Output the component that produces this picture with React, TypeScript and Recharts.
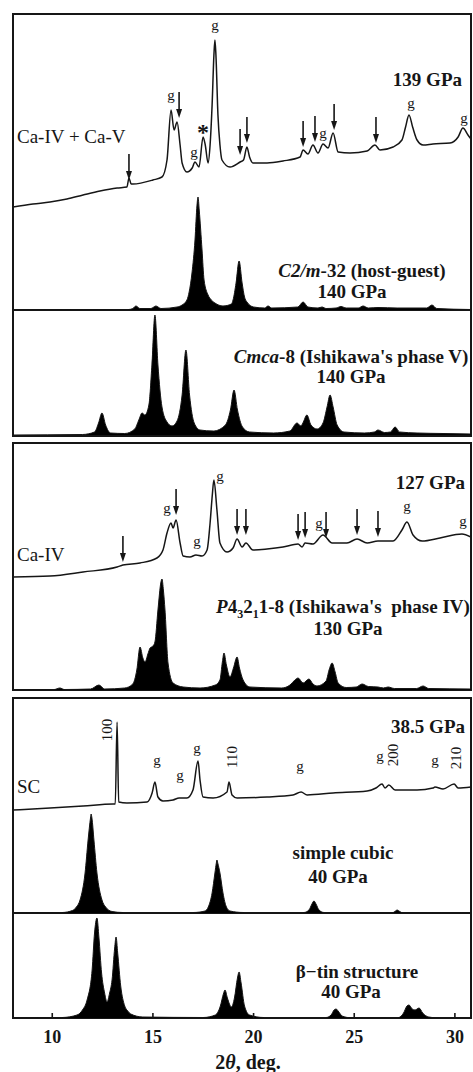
import React from "react";
import { ComposedChart, Line, Area, Scatter, XAxis, YAxis, Label } from "recharts";

const FONT = '"Liberation Serif", "Times New Roman", serif';
const INK = "#161616";
const T_DOMAIN: [number, number] = [8.05, 30.8];
const ticksAll = [10, 15, 20, 25, 30];
const ticksTopBox = [10, 20, 30];

type Pt = [number, number];
type LPt = [number, number, string];

// ---- 139 GPa, Ca-IV + Ca-V (2theta, intensity arb.)
const exp139: Pt[] = [
  [8.05, 8], [9.04, 11], [9.89, 13], [10.73, 16], [11.53, 20], [12.37, 24], [13.22, 27],
  [13.71, 28], [13.81, 37], [13.92, 31], [14.01, 31], [15.0, 35], [15.45, 38], [15.7, 55],
  [15.9, 105], [16.05, 85], [16.2, 93], [16.35, 70], [16.45, 52], [16.69, 43], [16.95, 47],
  [17.09, 53], [17.29, 48], [17.49, 78], [17.6, 70], [17.74, 52], [17.84, 70], [17.94, 110],
  [18.03, 160], [18.08, 175], [18.13, 160], [18.23, 100], [18.33, 70], [18.43, 55], [18.83, 48],
  [19.33, 53], [19.5, 55], [19.67, 68], [19.8, 58], [19.97, 52], [20.67, 52], [21.46, 54],
  [22.31, 58], [22.46, 65], [22.7, 61], [22.95, 70], [23.2, 62], [23.45, 71], [23.7, 67],
  [23.95, 82], [24.2, 63], [24.79, 62], [25.64, 64], [26.03, 70], [26.28, 65], [26.93, 68],
  [27.37, 75], [27.55, 88], [27.72, 100], [27.9, 88], [28.12, 75], [28.42, 70], [28.91, 71],
  [29.76, 72], [30.16, 78], [30.4, 87], [30.65, 80], [30.8, 76],
];
const arrows139: Pt[] = [
  [13.81, 35], [16.3, 97], [19.33, 60], [19.67, 72], [22.46, 68], [23.05, 73], [24.0, 85], [26.08, 72],
];
const g139: Pt[] = [[15.9, 118], [17.04, 61], [18.08, 188], [23.45, 80], [27.82, 110], [30.45, 95]];
const star139: Pt[] = [[17.49, 87]];

// ---- C2/m-32 (host-guest), 140 GPa
const c2m: Pt[] = [
  [8.05, 0], [13.8, 0.5], [14.0, 1.5], [14.16, 4], [14.35, 1.5], [14.9, 1.5], [15.15, 4], [15.4, 1.5],
  [16.2, 3], [16.45, 5], [16.69, 10], [16.8, 18], [16.94, 37], [17.09, 70], [17.19, 105], [17.24, 113],
  [17.3, 100], [17.44, 60], [17.54, 30], [17.74, 15], [17.9, 10], [18.08, 7], [18.48, 4], [18.9, 6],
  [18.98, 10], [19.13, 27], [19.28, 49], [19.43, 27], [19.55, 13], [19.67, 8], [20.0, 3], [20.55, 2],
  [20.72, 4], [20.9, 2], [22.2, 3], [22.46, 8], [22.7, 3], [23.2, 2], [23.4, 3], [23.6, 1.5], [24.1, 2],
  [24.34, 3.5], [24.6, 2], [25.2, 2], [25.44, 4], [25.7, 2], [26.18, 2.5], [27.13, 2], [28.6, 2],
  [28.86, 5], [29.1, 1.5], [30.8, 0.5],
];

// ---- Cmca-8 (Ishikawa's phase V), 140 GPa
const cmca: Pt[] = [
  [8.05, 0], [11.5, 0.5], [12.1, 3], [12.3, 12], [12.47, 22], [12.65, 10], [12.9, 2], [13.6, 1.5],
  [14.1, 6], [14.3, 15], [14.46, 22], [14.6, 20], [14.8, 30], [14.95, 70], [15.1, 120], [15.25, 70],
  [15.45, 28], [15.7, 13], [15.95, 9], [16.2, 14], [16.45, 40], [16.64, 85], [16.82, 40], [17.05, 12],
  [17.34, 5], [18.0, 4], [18.6, 10], [18.85, 25], [19.03, 45], [19.2, 25], [19.45, 8], [19.8, 3],
  [21.0, 2], [21.8, 4], [22.16, 12], [22.35, 9], [22.45, 12], [22.65, 20], [22.85, 10], [23.15, 6],
  [23.45, 12], [23.65, 28], [23.8, 40], [23.95, 28], [24.15, 10], [24.5, 3], [25.5, 2], [26.0, 3],
  [26.18, 5], [26.5, 2.5], [26.8, 3], [27.03, 8], [27.25, 3], [28.12, 2], [29.41, 1.5], [30.8, 1],
];

// ---- 127 GPa, Ca-IV
const exp127: Pt[] = [
  [8.05, 13], [9.89, 14], [11.53, 18], [13.22, 23], [13.51, 25], [14.36, 27], [15.2, 32], [15.5, 40],
  [15.7, 57], [15.9, 67], [16.0, 62], [16.15, 70], [16.35, 47], [16.5, 34], [16.84, 33], [17.14, 35],
  [17.44, 34], [17.69, 40], [17.84, 67], [17.95, 95], [18.03, 110], [18.18, 80], [18.33, 47],
  [18.68, 38], [18.98, 42], [19.18, 51], [19.43, 43], [19.62, 47], [19.97, 40], [20.67, 41],
  [21.46, 43], [22.21, 46], [22.41, 43], [22.56, 47], [22.95, 46], [23.45, 55], [23.9, 47],
  [24.64, 47], [25.14, 51], [25.64, 47], [26.18, 49], [26.93, 49], [27.37, 60], [27.62, 68],
  [27.92, 55], [28.37, 49], [29.26, 52], [30.35, 56], [30.8, 53],
];
const arrows127: Pt[] = [
  [13.51, 28], [16.15, 75], [19.18, 55], [19.62, 55], [22.21, 50], [22.56, 52], [23.6, 52], [25.14, 55], [26.18, 53],
];
const g127: Pt[] = [[15.7, 80], [17.19, 47], [18.33, 112], [23.25, 65], [27.62, 82], [30.4, 67]];

// ---- P4(3)2(1)2-8 (Ishikawa's phase IV), 130 GPa
const p4: Pt[] = [
  [8.05, 0], [10.1, 0.5], [10.38, 2], [10.6, 0.5], [11.9, 1], [12.32, 5], [12.6, 1], [13.6, 2],
  [14.0, 6], [14.2, 20], [14.36, 43], [14.5, 32], [14.61, 28], [14.75, 36], [14.86, 42], [15.0, 44],
  [15.1, 48], [15.25, 80], [15.4, 108], [15.45, 111], [15.52, 100], [15.6, 80], [15.75, 27],
  [16.0, 7], [16.5, 3], [17.34, 2], [18.1, 5], [18.33, 10], [18.45, 28], [18.53, 37], [18.65, 25],
  [18.83, 13], [19.0, 22], [19.18, 33], [19.3, 22], [19.48, 10], [19.82, 3], [21.4, 2], [21.81, 5],
  [22.05, 10], [22.21, 12], [22.46, 7], [22.75, 11], [22.95, 6], [23.15, 4], [23.6, 9], [23.75, 20],
  [23.9, 27], [24.05, 18], [24.2, 7], [24.6, 2.5], [25.1, 3], [25.39, 6], [25.7, 3.5], [26.18, 3],
  [26.45, 2], [26.68, 3], [27.0, 1.5], [28.1, 1.5], [28.42, 4], [28.7, 1.5], [30.8, 1],
];

// ---- 38.5 GPa, SC
const exp38: Pt[] = [
  [8.05, 10], [9.89, 12], [11.53, 14], [13.02, 16], [13.13, 16], [13.22, 98], [13.3, 18], [13.71, 17],
  [14.71, 18], [14.96, 27], [15.1, 38], [15.25, 23], [15.5, 19], [16.0, 20], [16.3, 22], [16.69, 22],
  [16.99, 30], [17.24, 59], [17.34, 40], [17.49, 23], [17.99, 22], [18.68, 28], [18.78, 38],
  [18.93, 25], [19.18, 22], [20.67, 23], [21.96, 25], [22.36, 28], [22.66, 25], [23.95, 27],
  [25.64, 29], [26.08, 32], [26.38, 36], [26.53, 32], [26.72, 35], [27.03, 30], [28.12, 30],
  [28.91, 32], [29.01, 33], [29.41, 31], [29.96, 36], [30.16, 32], [30.8, 33],
];
const g38: Pt[] = [[15.2, 58], [16.35, 43], [17.19, 70], [22.31, 52], [26.28, 62], [29.01, 58]];
const hkl38: LPt[] = [[12.7, 90, "100"], [18.93, 63, "110"], [26.93, 65, "200"], [30.06, 62, "210"]];

// ---- simple cubic, 40 GPa
const sc40: Pt[] = [
  [8.05, 0], [10.5, 0.5], [11.0, 2.5], [11.2, 6], [11.38, 13], [11.63, 40], [11.78, 73], [11.9, 95],
  [11.93, 99], [11.97, 95], [12.07, 73], [12.22, 40], [12.47, 13], [12.65, 6], [12.97, 1.5], [13.5, 0.5],
  [17.0, 0.5], [17.59, 2], [17.75, 6], [17.94, 20], [18.08, 40], [18.15, 50], [18.18, 53], [18.22, 50],
  [18.33, 40], [18.48, 20], [18.65, 6], [18.83, 2], [19.5, 0.5], [22.5, 0.5], [22.75, 3], [22.9, 9],
  [23.0, 12], [23.1, 9], [23.25, 3], [23.5, 0.5], [26.9, 0.3], [27.05, 2], [27.13, 3], [27.22, 2],
  [27.4, 0.3], [30.8, 0],
];

// ---- beta-tin, 40 GPa
const btin: Pt[] = [
  [8.05, 0], [10.5, 0.5], [11.23, 3], [11.5, 8], [11.73, 18], [11.98, 48], [12.1, 85], [12.22, 100],
  [12.32, 80], [12.45, 45], [12.6, 25], [12.72, 16], [12.85, 25], [12.97, 38], [13.1, 70], [13.17, 81],
  [13.25, 65], [13.4, 32], [13.6, 12], [13.75, 7], [13.9, 4], [14.5, 1], [17.5, 0.5], [18.1, 3],
  [18.35, 12], [18.5, 24], [18.58, 28], [18.7, 20], [18.9, 11], [19.05, 20], [19.2, 40], [19.28, 46],
  [19.38, 35], [19.55, 12], [19.8, 3], [20.5, 0.5], [23.6, 0.5], [23.85, 3], [24.0, 8], [24.1, 9],
  [24.2, 7], [24.4, 2], [24.8, 0.3], [27.2, 0.5], [27.45, 5], [27.62, 12], [27.72, 13], [27.88, 9],
  [28.02, 8], [28.22, 10], [28.4, 5], [28.7, 1], [29.2, 0], [30.8, 0],
];

const rows = (pts: Pt[]) => pts.map(([t, h]) => ({ t, h }));
const labelRows = (pts: LPt[]) => pts.map(([t, h, label]) => ({ t, h, label }));

const ArrowMark = (p: any) => (
  <g>
    <line x1={p.cx} x2={p.cx} y1={p.cy - 26} y2={p.cy - 6} stroke={INK} strokeWidth={1.6} />
    <path d={`M${p.cx - 3},${p.cy - 9} L${p.cx + 3},${p.cy - 9} L${p.cx},${p.cy} Z`} fill={INK} />
  </g>
);
const GMark = (p: any) => (
  <text x={p.cx} y={p.cy + 3} textAnchor="middle" fontFamily={FONT} fontSize={15} fill={INK}>g</text>
);
const StarMark = (p: any) => (
  <text x={p.cx} y={p.cy + 12} textAnchor="middle" fontFamily={FONT} fontSize={24} fontWeight="bold" fill={INK}>*</text>
);
const HklMark = (p: any) => (
  <text x={p.cx} y={p.cy + 5} textAnchor="middle" fontFamily={FONT} fontSize={15} fill={INK}
    transform={`rotate(-90 ${p.cx} ${p.cy})`}>{p.payload.label}</text>
);

const topTick = (len: number) => (p: any) => (
  <line x1={p.x} x2={p.x} y1={p.y} y2={p.y + len} stroke={INK} strokeWidth={1.6} />
);
const BottomTick = (p: any) => (
  <g>
    <line x1={p.x} x2={p.x} y1={p.y} y2={p.y - 5} stroke={INK} strokeWidth={1.6} />
    <text x={p.x} y={p.y + 25} textAnchor="middle" fontFamily={FONT} fontSize={18} fontWeight="bold" fill={INK}>
      {p.payload.value}
    </text>
  </g>
);
const AxisTitle = (p: any) => {
  const vb = p.viewBox;
  return (
    <text x={vb.x + vb.width / 2 + 6} y={vb.y + 51} textAnchor="middle" fontFamily={FONT} fontSize={20} fontWeight="bold" fill={INK}>
      2<tspan fontStyle="italic">θ</tspan>, deg.
    </text>
  );
};

const Plot = ({ top, height, extra = 0, data, children }: any) => (
  <div style={{ position: "absolute", left: 13, top }}>
    <ComposedChart width={458} height={height + extra} data={data} margin={{ top: 0, right: 0, bottom: 0, left: 0 }}>
      {children}
    </ComposedChart>
  </div>
);

const Txt = ({ x, y, align = "center", bold = true, size = 19, children }: any) => {
  const shift = align === "left" ? "0" : align === "right" ? "-100%" : "-50%";
  return (
    <div style={{
      position: "absolute", left: x, top: y - size * 0.52, transform: `translateX(${shift})`,
      whiteSpace: "nowrap", fontFamily: FONT, fontSize: size, lineHeight: 1,
      fontWeight: bold ? "bold" : "normal", color: INK,
    }}>{children}</div>
  );
};

const Box = ({ top, height }: any) => (
  <div style={{ position: "absolute", left: 12, top, width: 460, height, border: `2px solid ${INK}`, boxSizing: "border-box" }} />
);
const Sep = ({ y }: any) => (
  <div style={{ position: "absolute", left: 12, top: y - 1, width: 460, height: 2, background: INK }} />
);

const hiddenX = <XAxis type="number" dataKey="t" domain={T_DOMAIN} allowDataOverflow hide />;
const yAxis = (max: number) => <YAxis type="number" dataKey="h" domain={[0, max]} allowDataOverflow hide />;
const trace = <Line type="monotone" dataKey="h" stroke={INK} strokeWidth={1.5} dot={false} isAnimationActive={false} />;
const filled = <Area type="monotone" dataKey="h" stroke={INK} strokeWidth={1} fill="#000" fillOpacity={1} baseValue={0} dot={false} isAnimationActive={false} />;

export default function App() {
  return (
    <div style={{ position: "absolute", left: 0, top: 0, width: 473, height: 1072, overflow: "hidden", background: "#fff" }}>
      <Box top={13} height={424} />
      <Sep y={310} />
      <Box top={442} height={249} />
      <Box top={697} height={322} />
      <Sep y={913} />

      {/* 139 GPa */}
      <Plot top={14} height={201} data={rows(exp139)}>
        <XAxis type="number" dataKey="t" domain={T_DOMAIN} allowDataOverflow orientation="top" height={0}
          axisLine={false} tickLine={false} tickSize={0} tickMargin={0} ticks={ticksTopBox} interval={0} tick={topTick(8)} />
        {yAxis(201)}
        {trace}
        <Scatter data={rows(arrows139)} dataKey="h" shape={ArrowMark} isAnimationActive={false} />
        <Scatter data={rows(g139)} dataKey="h" shape={GMark} isAnimationActive={false} />
        <Scatter data={rows(star139)} dataKey="h" shape={StarMark} isAnimationActive={false} />
      </Plot>

      {/* C2/m-32 */}
      <Plot top={150} height={160} data={rows(c2m)}>
        {hiddenX}
        {yAxis(160)}
        {filled}
      </Plot>

      {/* Cmca-8 */}
      <Plot top={312} height={123} data={rows(cmca)}>
        {hiddenX}
        {yAxis(123)}
        {filled}
      </Plot>

      {/* 127 GPa */}
      <Plot top={443} height={147} data={rows(exp127)}>
        {hiddenX}
        {yAxis(147)}
        {trace}
        <Scatter data={rows(arrows127)} dataKey="h" shape={ArrowMark} isAnimationActive={false} />
        <Scatter data={rows(g127)} dataKey="h" shape={GMark} isAnimationActive={false} />
      </Plot>

      {/* P43212-8 */}
      <Plot top={560} height={130} data={rows(p4)}>
        {hiddenX}
        {yAxis(130)}
        {filled}
      </Plot>

      {/* 38.5 GPa */}
      <Plot top={698} height={122} data={rows(exp38)}>
        <XAxis type="number" dataKey="t" domain={T_DOMAIN} allowDataOverflow orientation="top" height={0}
          axisLine={false} tickLine={false} tickSize={0} tickMargin={0} ticks={ticksAll} interval={0} tick={topTick(10)} />
        {yAxis(122)}
        {trace}
        <Scatter data={rows(g38)} dataKey="h" shape={GMark} isAnimationActive={false} />
        <Scatter data={labelRows(hkl38)} dataKey="h" shape={HklMark} isAnimationActive={false} />
      </Plot>

      {/* simple cubic */}
      <Plot top={805} height={108} data={rows(sc40)}>
        {hiddenX}
        {yAxis(108)}
        {filled}
      </Plot>

      {/* beta-tin */}
      <Plot top={913} height={105} extra={58} data={rows(btin)}>
        <XAxis type="number" dataKey="t" domain={T_DOMAIN} allowDataOverflow height={58}
          axisLine={false} tickLine={false} tickSize={0} tickMargin={0} ticks={ticksAll} interval={0} tick={BottomTick}>
          <Label content={AxisTitle} />
        </XAxis>
        {yAxis(105)}
        {filled}
      </Plot>

      <Txt x={462} y={80} align="right">139 GPa</Txt>
      <Txt x={17} y={137} align="left" bold={false} size={19}>Ca-IV + Ca-V</Txt>
      <Txt x={362} y={271}><i>C2/m</i>-32 (host-guest)</Txt>
      <Txt x={352} y={292}>140 GPa</Txt>
      <Txt x={351} y={357}><i>Cmca</i>-8 (Ishikawa's phase V)</Txt>
      <Txt x={351} y={377}>140 GPa</Txt>
      <Txt x={465} y={483} align="right">127 GPa</Txt>
      <Txt x={17} y={555} align="left" bold={false} size={19}>Ca-IV</Txt>
      <Txt x={343} y={607}>
        <i>P</i>4<sub style={{ fontSize: 12 }}>3</sub>2<sub style={{ fontSize: 12 }}>1</sub>1-8 (Ishikawa's&nbsp; phase IV)
      </Txt>
      <Txt x={348} y={629}>130 GPa</Txt>
      <Txt x={465} y={727} align="right">38.5 GPa</Txt>
      <Txt x={17} y={787} align="left" bold={false} size={19}>SC</Txt>
      <Txt x={343} y={853}>simple cubic</Txt>
      <Txt x={338} y={877}>40 GPa</Txt>
      <Txt x={357} y={972}>β−tin structure</Txt>
      <Txt x={351} y={992}>40 GPa</Txt>
    </div>
  );
}
